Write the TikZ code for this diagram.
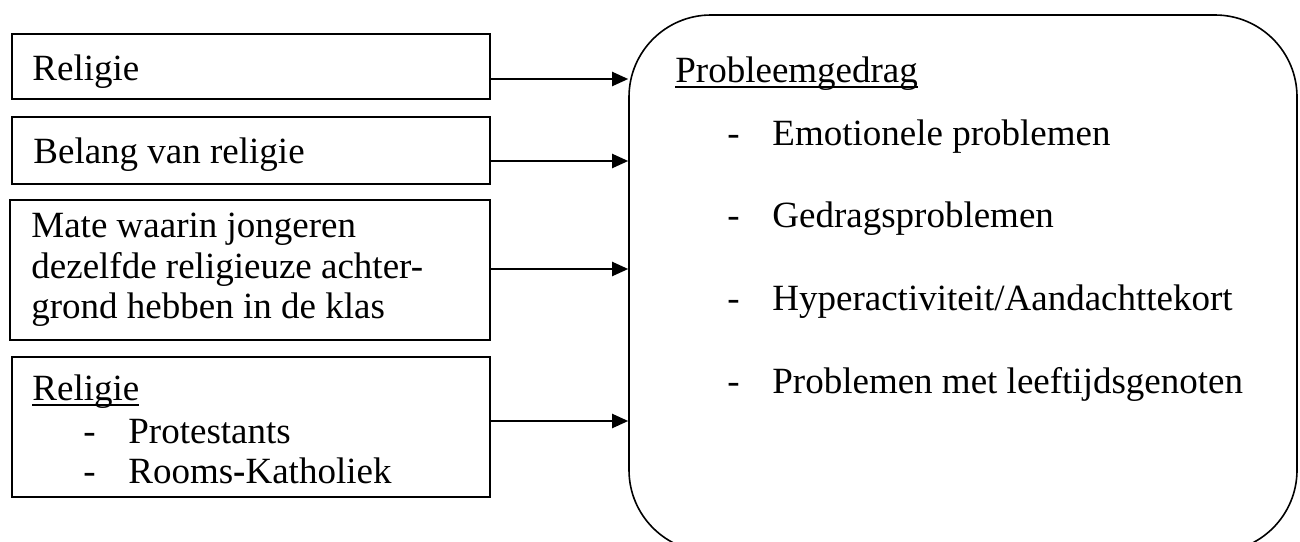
\documentclass[tikz,border=0pt]{standalone}
\usepackage{fontspec}
\setmainfont{Liberation Serif}
\usetikzlibrary{arrows.meta,fit}
\newcommand\itm[1]{\makebox[22.5pt][l]{-}#1}
\newcommand\ulin[1]{\begingroup\setbox0\hbox{#1}\rlap{\rule[-3.1pt]{\wd0}{0.9pt}}\box0\endgroup}
\begin{document}
\begin{tikzpicture}[x=0.5pt,y=-0.5pt,
  box/.style={draw,line width=0.75pt,inner sep=0pt,rectangle},
  bigbox/.style={draw,line width=0.8pt,inner sep=0pt,rectangle,rounded corners=41pt},
  txt/.style={anchor=base west,inner sep=0pt,font=\fontsize{18.5pt}{20.5pt}\selectfont},
  arr/.style={line width=1pt,-{Triangle[length=8pt,width=7pt]}}]
\useasboundingbox (0,0) rectangle (1300,541);
% left boxes
\node[box,fit={(12,34)(490,99)}] (b1) {};
\node[box,fit={(12,117)(490,184)}] (b2) {};
\node[box,fit={(10,200)(490,340)}] (b3) {};
\node[box,fit={(12,357)(490,497)}] (b4) {};
% right rounded box
\node[bigbox,fit={(629,15)(1297,552)}] (pb) {};
% texts
\node[txt] (t1) at (32,80) {Religie};
\node[txt] (t2) at (33,163) {Belang van religie};
\node[txt] (t3a) at (31,237) {Mate waarin jongeren};
\node[txt] (t3b) at (31,278) {dezelfde religieuze achter-};
\node[txt] (t3c) at (31,318) {grond hebben in de klas};
\node[txt] (t4a) at (32,400) {\ulin{Religie}};
\node[txt] (t4b) at (83,443) {\itm{Protestants}};
\node[txt] (t4c) at (83,483) {\itm{Rooms\textbf{-}Katholiek}};
\node[txt] (p0) at (675,82) {\ulin{Probleemgedrag}};
\node[txt] (p1) at (727,145) {\itm{Emotionele problemen}};
\node[txt] (p2) at (727,227) {\itm{Gedragsproblemen}};
\node[txt] (p3) at (727,310) {\itm{Hyperactiviteit/Aandachttekort}};
\node[txt] (p4) at (727,393) {\itm{Problemen met leeftijdsgenoten}};
% arrows
\draw[arr] ([yshift=-6.25pt]b1.east) -- ([yshift=-6.25pt]b1.east -| pb.west);
\draw[arr] ([yshift=-5.25pt]b2.east) -- ([yshift=-5.25pt]b2.east -| pb.west);
\draw[arr] ([yshift=0.5pt]b3.east) -- ([yshift=0.5pt]b3.east -| pb.west);
\draw[arr] ([yshift=3pt]b4.east) -- ([yshift=3pt]b4.east -| pb.west);
\end{tikzpicture}
\end{document}
